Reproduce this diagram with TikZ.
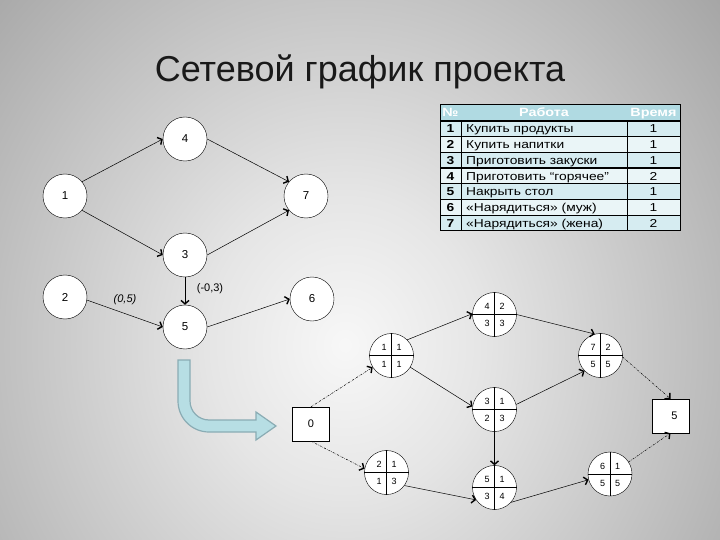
\documentclass[tikz,border=0pt]{standalone}
\usepackage{fontspec}
\setmainfont{Liberation Sans}
\newfontfamily\tabfont[FakeStretch=1.2]{Liberation Sans}
\usetikzlibrary{arrows.meta}

\definecolor{hdrblue}{RGB}{176,218,226}
\definecolor{rowblue}{RGB}{214,236,241}
\definecolor{rowlight}{RGB}{234,245,247}
\definecolor{bendfill}{RGB}{183,222,228}
\definecolor{benddraw}{RGB}{138,172,180}

\pgfdeclareradialshading{slidebg}{\pgfpoint{0bp}{0bp}}{color(0bp)=(white!97!black); color(3.4bp)=(white!90!black); color(14bp)=(black!40); color(50bp)=(black!40)}

\tikzset{
	evnode/.style={circle, draw, fill=white, minimum size=44pt, inner sep=0pt, font=\fontsize{11.5}{12}\selectfont},
	quad/.style={inner sep=0pt, font=\fontsize{9}{9}\selectfont},
	sqbox/.style={draw, fill=white, minimum width=37pt, minimum height=34pt, inner sep=0pt, font=\fontsize{11}{11}\selectfont},
	dep/.style={->, line width=0.5pt},
	dummy/.style={->, line width=0.5pt, dash pattern=on 2pt off 1.2pt on 0.5pt off 1.2pt},
	tabtxt/.style={inner sep=0pt, anchor=base, font=\tabfont\fontsize{11.5}{12}\selectfont},
	hdrtxt/.style={inner sep=0pt, anchor=base, text=white, font=\tabfont\fontsize{12}{12}\selectfont\bfseries}
}

% event with four fields: name, position, top left, top right, bottom left, bottom right
\newcommand{\qevent}[6]{%
	\node[evnode] (#1) at (#2) {};
	\draw (#1.north) -- (#1.south) (#1.west) -- (#1.east);
	\node[quad] (#1-tl) at ([shift={(-7.5,-8)}]#1.center) {#3};
	\node[quad] (#1-tr) at ([shift={(7.5,-8)}]#1.center) {#4};
	\node[quad] (#1-bl) at ([shift={(-7.5,9)}]#1.center) {#5};
	\node[quad] (#1-br) at ([shift={(7.5,9)}]#1.center) {#6};
}

\begin{document}
\begin{tikzpicture}[x=1pt, y=-1pt,
	>={Straight Barb[length=3.5pt, width=8pt, line width=1.4pt]}]
	% slide background
	\useasboundingbox (0,0) rectangle (720,540);
	\begin{scope}
		\clip (0,0) rectangle (720,540);
		\fill[black!40] (0,0) rectangle (720,540);
		\shade[shading=slidebg] (345,345) ellipse (1000 and 1100);
	\end{scope}

	\node[anchor=base, font=\fontsize{36}{36}\selectfont, text=black!90] (title) at (360,82) {Сетевой график проекта};

	% first network
	\node[evnode] (n1) at (65,196) {1};
	\node[evnode] (n4) at (185,139) {4};
	\node[evnode] (n7) at (306,196) {7};
	\node[evnode] (n3) at (185,255) {3};
	\node[evnode] (n2) at (65,297) {2};
	\node[evnode] (n5) at (185,327) {5};
	\node[evnode] (n6) at (312,299) {6};
	\draw[dep] (n1.40) -- (n4.west);
	\draw[dep] (n1.-40) -- (n3.west);
	\draw[dep] (n4.east) -- (n7.140);
	\draw[dep] (n3.east) -- (n7.-140);
	\draw[dep] (n3.south) -- (n5.north);
	\draw[dep] (n2.-8) -- (n5.west);
	\draw[dep] (n5.east) -- (n6.west);
	\node[font=\fontsize{11}{11}\selectfont\itshape] (w25) at (125,300) {(0,5)};
	\node[font=\fontsize{11}{11}\selectfont] (w35) at (210,289) {(-0,3)};

	% table of jobs
	\fill[hdrblue] (440,105) rectangle (680,121);
	\node[hdrtxt] (h-no) at (450.5,117) {№};
	\node[hdrtxt] (h-job) at (544,117) {Работа};
	\node[hdrtxt] (h-t) at (653.5,117) {Время};
	\foreach \i in {1,...,7} {
		\pgfmathsetmacro{\ya}{121+15.7*(\i-1)}
		\pgfmathsetmacro{\yb}{\ya+15.7}
		\ifodd\i \fill[rowblue] (440,\ya) rectangle (680,\yb); \else \fill[rowlight] (440,\ya) rectangle (680,\yb); \fi
		\draw[line width=1.3pt] (440,\ya) -- (680,\ya);
	}
	\foreach \n/\job/\t [count=\i] in {1/Купить продукты/1, 2/Купить напитки/1, 3/Приготовить закуски/1, 4/Приготовить “горячее”/2, 5/Накрыть стол/1, 6/«Нарядиться» (муж)/1, 7/«Нарядиться» (жена)/2} {
		\pgfmathsetmacro{\yt}{121+15.7*(\i-1)+12}
		\node[tabtxt, font=\tabfont\fontsize{11.5}{12}\selectfont\bfseries] (no-\i) at (450.5,\yt) {\n};
		\node[tabtxt, anchor=base west] (job-\i) at (466,\yt) {\job};
		\node[tabtxt] (t-\i) at (653.5,\yt) {\t};
	}
	\draw[line width=0.8pt] (461,121) -- (461,231) (627,121) -- (627,231);
	\draw[line width=1pt] (440,105) rectangle (680,231);

	% turning arrow
	\filldraw[fill=bendfill, draw=benddraw, line width=1.2pt]
		(178,360) -- (178,401) arc[start angle=180, end angle=90, radius=31]
		-- (256,432) -- (256,440) -- (276,426) -- (256,412) -- (256,420) -- (209,420)
		arc[start angle=90, end angle=180, radius=19] -- (190,360) -- cycle;

	% second network
	\node[sqbox] (s0) at (311,424) {0};
	\node[sqbox] (s5) at (670.5,416) {\hspace*{8pt}5};
	\qevent{a}{391.5,355.5}{1}{1}{1}{1}
	\qevent{b}{494.5,314.5}{4}{2}{3}{3}
	\qevent{c}{494.5,409.5}{3}{1}{2}{3}
	\qevent{d}{600.5,355.5}{7}{2}{5}{5}
	\qevent{e}{386.5,472.5}{2}{1}{1}{3}
	\qevent{f}{494.5,487.5}{5}{1}{3}{4}
	\qevent{g}{610,474}{6}{1}{5}{5}
	\draw[dummy] (s0.north) -- (a.212);
	\draw[dummy] (s0.south) -- (e.170);
	\draw[dep] (a.45) -- (b.178);
	\draw[dep] (a.-32) -- (c.172);
	\draw[dep] (b.east) -- (d.105);
	\draw[dep] (c.13) -- (d.224);
	\draw[dep] (c.south) -- (f.north);
	\draw[dep] (e.-36) -- (f.214);
	\draw[dep] (f.-42) -- (g.195);
	\draw[dummy] (d.-4) -- (s5.north);
	\draw[dummy] (g.33) -- (s5.south);
\end{tikzpicture}
\end{document}
